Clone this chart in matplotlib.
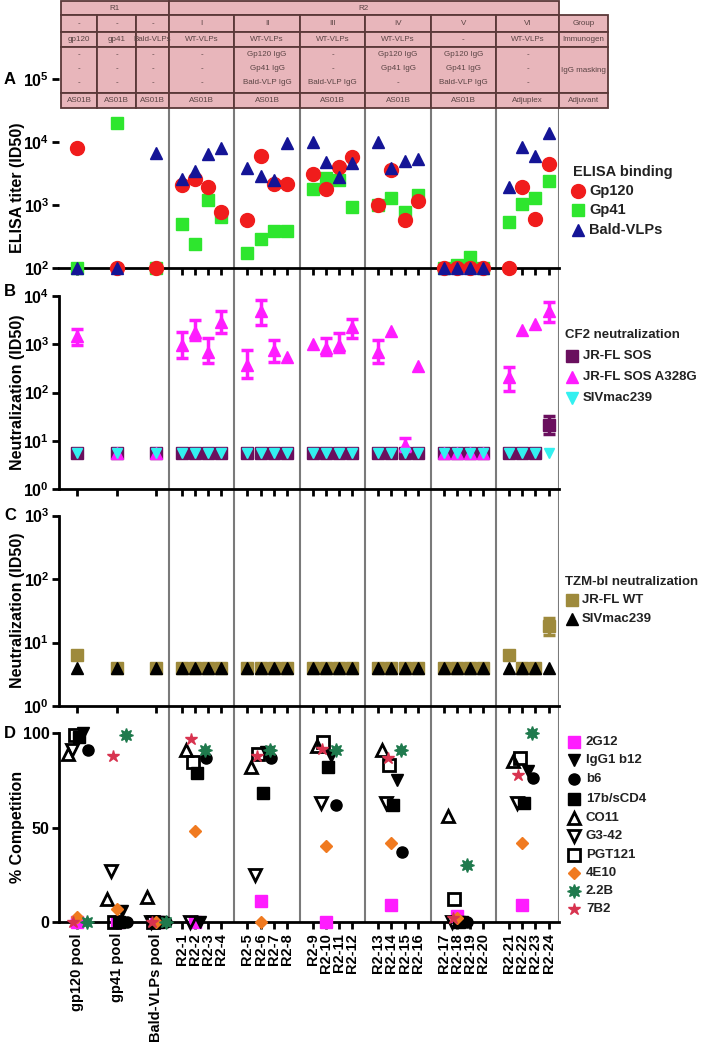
import numpy as np
import matplotlib
matplotlib.use('Agg')
import matplotlib.pyplot as plt
from matplotlib.patches import Rectangle
from matplotlib.ticker import NullLocator, FixedLocator

plt.rcParams['font.family'] = ['Liberation Sans', 'DejaVu Sans']
plt.rcParams['font.weight'] = 'bold'
plt.rcParams['mathtext.fontset'] = 'custom'
plt.rcParams['mathtext.rm'] = 'Liberation Sans:bold'
plt.rcParams['mathtext.bf'] = 'Liberation Sans:bold'
plt.rcParams['mathtext.it'] = 'Liberation Sans:bold:italic'

# ---------------- data ----------------
samples = ["gp120 pool", "gp41 pool", "Bald-VLPs pool"] + [f"R2-{i}" for i in range(1, 25)]

# Panel A: ELISA titers (ID50)
elisa_gp120 = [8000, 100, 100, 2100, 2600, 1950, 780, 580, 5900, 2150, 2150,
               3100, 1800, 4000, 5700, 1000, 3600, 580, 1170, 100, 100, 100, 100,
               100, 1950, 600, 4500]
elisa_gp41 = [100, 20000, 100, 500, 240, 1200, 650, 175, 285, 390, 390,
              1780, 2640, 2500, 940, 1000, 1290, 780, 1440, 100, 110, 150, 100,
              545, 1040, 1290, 2400]
elisa_bald = [100, 100, 6600, 2600, 3450, 6400, 7900, 3900, 2900, 2450, 9700,
              10000, 4900, 2750, 4700, 10000, 3800, 5000, 5300, 100, 100, 100, 100,
              1900, 8300, 5900, 13800]

# Panel B: CF2 neutralization
cf2_sos = [5.5] * 26 + [21]
cf2_sos_lo = [np.nan] * 26 + [14]
cf2_sos_hi = [np.nan] * 26 + [32]
cf2_a328g = [1500, 5.5, 5.5, 980, 1800, 700, 2950, 380, 4800, 760, 540, 1000, 830, 980,
             2250, 700, 1900, 8, 360, 5.5, 5.5, 5.5, 5.5, 210, 2000, 2600, 5000]
cf2_a328g_lo = [970, np.nan, np.nan, 515, 1240, 410, 1700, 200, 2500, 420, np.nan,
                np.nan, 600, 700, 1350, 410, np.nan, 6, np.nan, np.nan, np.nan, np.nan,
                np.nan, 110, np.nan, np.nan, 2950]
cf2_a328g_hi = [2050, np.nan, np.nan, 1820, 3150, 1350, 4800, 760, 8300, 1230, np.nan,
                np.nan, 1350, 1700, 3300, 1230, np.nan, 11.5, np.nan, np.nan, np.nan, np.nan,
                np.nan, 345, np.nan, np.nan, 7600]
cf2_siv = [5.5] * 27

# Panel C: TZM-bl neutralization
tzm_jrfl = [6.3] + [4] * 22 + [6.3, 4, 4, 18]
tzm_jrfl_lo = [5.5] + [np.nan] * 25 + [13]
tzm_jrfl_hi = [7.4] + [np.nan] * 25 + [24.5]
tzm_siv = [4] * 27

# Panel D: % competition (pools and one serum per group)
comp_samples = ["gp120 pool", "gp41 pool", "Bald-VLPs pool", "R2-2", "R2-6",
                "R2-10", "R2-14", "R2-18", "R2-22"]
antibodies = ["2G12", "IgG1 b12", "b6", "17b/sCD4", "CO11", "G3-42", "PGT121",
              "4E10", "2.2B", "7B2"]
comp_2g12 = [0, 0, 0, 0, 11, 0, 9, 3, 9]
comp_b12 = [100, 6, 0, 0, 90, 88, 75, 0, 80]
comp_b6 = [91, 0, 0, 87, 87, 62, 37, 0, 76]
comp_17b = [98, 0, 0, 79, 68, 82, 62, 0, 63]
comp_co11 = [89, 12, 13, 91, 82, 93, 91, 56, 85]
comp_g342 = [91, 27, 0, 0, 25, 63, 63, 0, 63]
comp_pgt121 = [99, 0, 0, 84.5, 89, 95, 83, 12, 87]
comp_4e10 = [2.5, 7, 0, 48, 0, 40, 42, 2, 42]
comp_22b = [0, 99, 0, 91, 91, 91, 91, 30, 100]
comp_7b2 = [0, 88, 0, 97, 88, 91.5, 87, 2, 78]
comp_values = [comp_2g12, comp_b12, comp_b6, comp_17b, comp_co11, comp_g342,
               comp_pgt121, comp_4e10, comp_22b, comp_7b2]

# Header table
round_labels = ["R1", "R2"]
group_ids = ["-", "-", "-", "I", "II", "III", "IV", "V", "VI"]
immunogens = ["gp120", "gp41", "Bald-VLPs", "WT-VLPs", "WT-VLPs", "WT-VLPs",
              "WT-VLPs", "-", "WT-VLPs"]
igg_masking = [["-", "-", "-"], ["-", "-", "-"], ["-", "-", "-"], ["-", "-", "-"],
               ["Gp120 IgG", "Gp41 IgG", "Bald-VLP IgG"], ["-", "-", "Bald-VLP IgG"],
               ["Gp120 IgG", "Gp41 IgG", "-"], ["Gp120 IgG", "Gp41 IgG", "Bald-VLP IgG"],
               ["-", "-", "-"]]
adjuvants = ["AS01B"] * 8 + ["Adjuplex"]
row_titles = ["Group", "Immunogen", "IgG masking", "Adjuvant"]

# ---------------- layout ----------------
W, H = 702, 1050
fig = plt.figure(figsize=(W / 100, H / 100), dpi=100)


def sample_pos(i):
    if i < 3:
        return -8 + 3 * i
    k = i - 3
    return (k // 4) * 5 + (k % 4)


xpos = np.array([sample_pos(i) for i in range(len(samples))], dtype=float)
pos_of = dict(zip(samples, xpos))
XLIM = (-9.4, 28.8)
dividers = [-1, 4, 9, 14, 19, 24, 28.8]
AX_L, AX_W = 59, 500


def dpx(x):
    return AX_L + (x - XLIM[0]) / (XLIM[1] - XLIM[0]) * AX_W


def ax_at(top_px, bottom_px, z=2):
    return fig.add_axes([AX_L / W, 1 - bottom_px / H, AX_W / W, (bottom_px - top_px) / H],
                        zorder=z)


# background divider lines
axBG = ax_at(108, 922, z=0)
axBG.set_xlim(XLIM)
axBG.set_ylim(0, 1)
axBG.axis('off')
for d in dividers:
    axBG.axvline(d, color='#7a7a7a', lw=1.5)

axA = ax_at(79, 268)
axB = ax_at(296, 489)
axC = ax_at(515.5, 706)
axD = ax_at(733, 922)

for ax in (axA, axB, axC, axD):
    ax.set_xlim(XLIM)
    ax.patch.set_alpha(0)
    ax.spines[['top', 'right']].set_visible(False)
    ax.spines['left'].set_linewidth(2)
    ax.spines['bottom'].set_linewidth(2)
    ax.set_xticks(xpos)
    ax.set_xticklabels([])
    ax.tick_params(axis='x', length=5, width=2, direction='out')
    ax.tick_params(axis='y', length=5, width=2, labelsize=11.5, pad=2)
axA.spines['left'].set_visible(False)

for ax, lims in ((axA, (1e2, 1e5)), (axB, (1e0, 1e4)), (axC, (1e0, 1e3))):
    ax.set_yscale('log')
    ax.set_ylim(*lims)
    ax.yaxis.set_major_locator(FixedLocator([10 ** k for k in range(int(np.log10(lims[0])), int(np.log10(lims[1])) + 1)]))
    ax.yaxis.set_minor_locator(NullLocator())

# ---- Panel A ----
RED, GREEN, BLUE = '#f01c1c', '#2ee62e', '#141496'
axA.plot(xpos, elisa_gp41, 's', color=GREEN, ms=9, clip_on=False, zorder=3)
axA.plot(xpos, elisa_gp120, 'o', color=RED, ms=10, clip_on=False, zorder=4)
axA.plot(xpos, elisa_bald, '^', color=BLUE, ms=9, clip_on=False, zorder=5)

# ---- Panel B ----
PURPLE, MAGENTA, CYAN = '#6a0f5e', '#ff1cff', '#33f0f0'
lo = np.array(cf2_sos_lo); hi = np.array(cf2_sos_hi); v = np.array(cf2_sos, float)
axB.errorbar(xpos, v, yerr=[v - lo, hi - v], fmt='none', ecolor=PURPLE, elinewidth=2.5,
             capsize=4, capthick=2.5, zorder=3, clip_on=False)
axB.plot(xpos, cf2_sos, 's', color=PURPLE, ms=8, clip_on=False, zorder=3)
lo = np.array(cf2_a328g_lo); hi = np.array(cf2_a328g_hi); v = np.array(cf2_a328g, float)
axB.errorbar(xpos, v, yerr=[v - lo, hi - v], fmt='none', ecolor=MAGENTA, elinewidth=2.5,
             capsize=4, capthick=2.5, zorder=4, clip_on=False)
axB.plot(xpos, cf2_a328g, '^', color=MAGENTA, ms=8, clip_on=False, zorder=4)
axB.plot(xpos, cf2_siv, 'v', color=CYAN, ms=7, clip_on=False, zorder=5)

# ---- Panel C ----
OLIVE = '#9e8a3c'
lo = np.array(tzm_jrfl_lo); hi = np.array(tzm_jrfl_hi); v = np.array(tzm_jrfl, float)
axC.errorbar(xpos, v, yerr=[v - lo, hi - v], fmt='none', ecolor=OLIVE, elinewidth=2.5,
             capsize=4, capthick=2.5, zorder=3)
axC.plot(xpos, tzm_jrfl, 's', color=OLIVE, ms=9, clip_on=False, zorder=3)
axC.plot(xpos, tzm_siv, '^', color='black', ms=8, clip_on=False, zorder=4)

# ---- Panel D ----
ab_styles = {
    "2G12": dict(marker='s', mfc='#ff1cff', mec='#ff1cff', ms=8, mew=1),
    "IgG1 b12": dict(marker='v', mfc='black', mec='black', ms=8, mew=1),
    "b6": dict(marker='o', mfc='black', mec='black', ms=8, mew=1),
    "17b/sCD4": dict(marker='s', mfc='black', mec='black', ms=8, mew=1),
    "CO11": dict(marker='^', mfc='none', mec='black', ms=9, mew=2),
    "G3-42": dict(marker='v', mfc='none', mec='black', ms=9, mew=2),
    "PGT121": dict(marker='s', mfc='none', mec='black', ms=9, mew=2),
    "4E10": dict(marker='D', mfc='#f07a20', mec='#f07a20', ms=6, mew=1),
    "2.2B": dict(marker=(8, 1, 0), mfc='#1f7a4d', mec='#1f7a4d', ms=10, mew=1),
    "7B2": dict(marker='*', mfc='#d8334f', mec='#d8334f', ms=9, mew=1),
}
ab_dodge = {"2G12": 0.0, "IgG1 b12": 0.4, "b6": 0.8, "17b/sCD4": 0.15, "CO11": -0.7,
            "G3-42": -0.4, "PGT121": -0.2, "4E10": 0.0, "2.2B": 0.75, "7B2": -0.3}
comp_x = np.array([pos_of[s] for s in comp_samples])
for name, vals in zip(antibodies, comp_values):
    axD.plot(comp_x + ab_dodge[name], vals, ls='none', clip_on=False, zorder=4,
             **ab_styles[name])
axD.set_ylim(0, 100)
axD.set_yticks([0, 50, 100])
axD.set_xticklabels(samples, rotation=90, fontsize=10.5, fontweight='bold')
axD.tick_params(axis='x', pad=3)

# ---------------- overlay (table, labels, legends) ----------------
axT = fig.add_axes([0, 0, 1, 1], zorder=10)
axT.set_xlim(0, W)
axT.set_ylim(H, 0)
axT.axis('off')

PINK = '#e8b6bb'
EDGE = '#5a3838'
TXT = '#5a4444'
col_edges = [61, dpx(-6.5), dpx(-3.5)] + [dpx(d) for d in dividers] + [608]
row_edges = [1, 15, 32, 47, 93, 108]

# top row (R1 / R2)
axT.add_patch(Rectangle((col_edges[0], row_edges[0]), col_edges[3] - col_edges[0],
                        row_edges[1] - row_edges[0], fc=PINK, ec=EDGE, lw=1.3))
axT.add_patch(Rectangle((col_edges[3], row_edges[0]), col_edges[9] - col_edges[3],
                        row_edges[1] - row_edges[0], fc=PINK, ec=EDGE, lw=1.3))
axT.text((col_edges[0] + col_edges[3]) / 2, 8, round_labels[0], ha='center', va='center',
         fontsize=5.8, fontweight='normal', color=TXT)
axT.text((col_edges[3] + col_edges[9]) / 2, 8, round_labels[1], ha='center', va='center',
         fontsize=5.8, fontweight='normal', color=TXT)

for c in range(10):
    x0, x1 = col_edges[c], col_edges[c + 1]
    for r in range(1, 5):
        y0, y1 = row_edges[r], row_edges[r + 1]
        axT.add_patch(Rectangle((x0, y0), x1 - x0, y1 - y0, fc=PINK, ec=EDGE, lw=1.3))
    xc = (x0 + x1) / 2
    if c < 9:
        axT.text(xc, (row_edges[1] + row_edges[2]) / 2, group_ids[c], ha='center',
                 va='center', fontsize=5.8, fontweight='normal', color=TXT)
        axT.text(xc, (row_edges[2] + row_edges[3]) / 2, immunogens[c], ha='center',
                 va='center', fontsize=5.8, fontweight='normal', color=TXT)
        for j, s in enumerate(igg_masking[c]):
            axT.text(xc, 55 + j * 14, s, ha='center', va='center', fontsize=5.8,
                     fontweight='normal', color=TXT)
        axT.text(xc, (row_edges[4] + row_edges[5]) / 2, adjuvants[c], ha='center',
                 va='center', fontsize=5.8, fontweight='normal', color=TXT)
    else:
        for r, s in enumerate(row_titles):
            axT.text(xc, (row_edges[r + 1] + row_edges[r + 2]) / 2, s, ha='center',
                     va='center', fontsize=5.8, fontweight='normal', color=TXT)

# panel letters and y labels
for letter, y in (("A", 80), ("B", 292), ("C", 516), ("D", 734)):
    axT.text(4, y, letter, fontsize=12, fontweight='bold', va='center', ha='left')
for label, y in (("ELISA titer (ID50)", 188), ("Neutralization (ID50)", 392),
                 ("Neutralization (ID50)", 610), ("% Competition", 827)):
    axT.text(18, y, label, rotation=90, fontsize=11.5, fontweight='bold', ha='center',
             va='center')

# legends
def legend_block(title, title_xy, entries, mx, tx, ys, fs=10):
    if title:
        axT.text(title_xy[0], title_xy[1], title, fontsize=fs, fontweight='bold',
                 va='center', ha='left', color='#222222')
    for (label, style), y in zip(entries, ys):
        axT.plot([mx], [y], ls='none', **style)
        axT.text(tx, y, label, fontsize=fs, fontweight='bold', va='center', ha='left',
                 color='#222222')

legend_block("ELISA binding", (573, 172),
             [("Gp120", dict(marker='o', color=RED, ms=10)),
              ("Gp41", dict(marker='s', color=GREEN, ms=9)),
              ("Bald-VLPs", dict(marker='^', color=BLUE, ms=9))],
             578, 589, [191, 210, 230], fs=10.5)
legend_block("CF2 neutralization", (565, 335),
             [("JR-FL SOS", dict(marker='s', color=PURPLE, ms=8)),
              ("JR-FL SOS A328G", dict(marker='^', color=MAGENTA, ms=8)),
              ("SIVmac239", dict(marker='v', color=CYAN, ms=8))],
             572, 583, [356, 377, 398], fs=9.5)
legend_block("TZM-bl neutralization", (565, 582),
             [("JR-FL WT", dict(marker='s', color=OLIVE, ms=8)),
              ("SIVmac239", dict(marker='^', color='black', ms=8))],
             572, 582, [600, 619], fs=9.5)
legend_block(None, None,
             [(name, ab_styles[name]) for name in antibodies],
             574, 586, [742, 760, 779, 799, 818, 836, 855, 873, 891, 909], fs=9.5)

fig.savefig('out.png', dpi=100)
